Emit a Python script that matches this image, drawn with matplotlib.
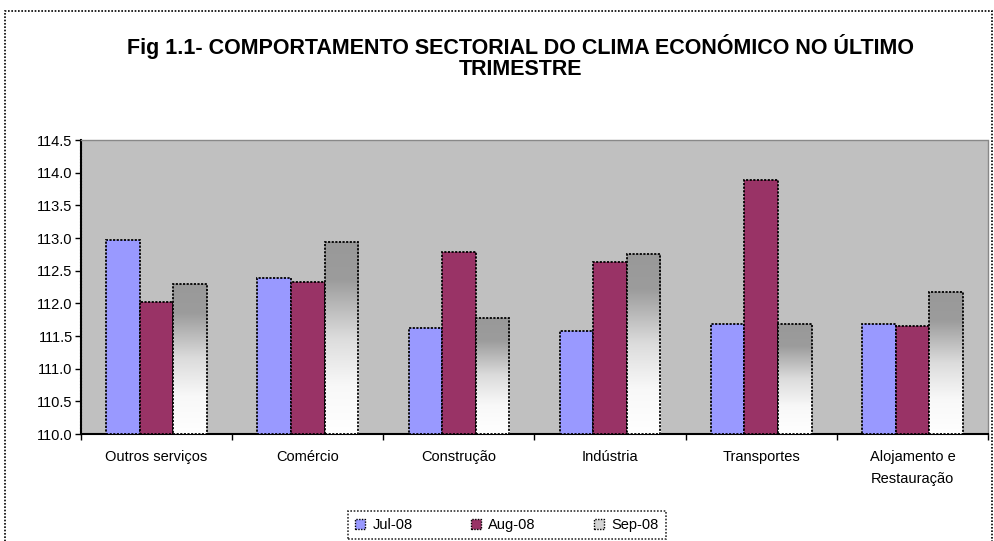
import numpy as np
import matplotlib
matplotlib.use("Agg")
import matplotlib.pyplot as plt
from matplotlib.patches import Rectangle, Patch
from matplotlib.colors import LinearSegmentedColormap

plt.rcParams['font.family'] = ['Liberation Sans', 'DejaVu Sans']

title = "Fig 1.1- COMPORTAMENTO SECTORIAL DO CLIMA ECONÓMICO NO ÚLTIMO\nTRIMESTRE"
categories = ["Outros serviços", "Comércio", "Construção", "Indústria", "Transportes",
              "Alojamento e\nRestauração"]
series_names = ["Jul-08", "Aug-08", "Sep-08"]
jul = [112.97, 112.39, 111.63, 111.57, 111.68, 111.68]
aug = [112.02, 112.33, 112.79, 112.64, 113.89, 111.66]
sep = [112.30, 112.94, 111.78, 112.76, 111.68, 112.17]
yticks = [110.0, 110.5, 111.0, 111.5, 112.0, 112.5, 113.0, 113.5, 114.0, 114.5]

W, H = 995, 541
fig = plt.figure(figsize=(W / 100, H / 100), dpi=100)
fig.patch.set_facecolor("white")

# outer chart border
fig.patches.append(Rectangle((5 / W, -0.02), 987 / W, (530 / H) + 0.02, transform=fig.transFigure,
                             fill=False, edgecolor="black", linewidth=1.2, linestyle=(0, (1, 1))))

ax = fig.add_axes([81 / W, (541 - 434) / H, (988 - 81) / W, (434 - 140) / H])
ax.set_facecolor("#c0c0c0")

bw = 0.222
x = np.arange(len(categories)) + 0.5
edge_ls = (0, (1.2, 0.8))
ax.bar(x - bw, [v - 110 for v in jul], bw, bottom=110, color="#9999ff",
       edgecolor="black", linewidth=1.3, linestyle=edge_ls, zorder=3)
ax.bar(x, [v - 110 for v in aug], bw, bottom=110, color="#993366",
       edgecolor="black", linewidth=1.3, linestyle=edge_ls, zorder=3)
bars_sep = ax.bar(x + bw, [v - 110 for v in sep], bw, bottom=110, color="none",
                  edgecolor="black", linewidth=1.3, linestyle=edge_ls, zorder=4)

cmap = LinearSegmentedColormap.from_list(
    "g", [(0.0, "#999999"), (0.2, "#9c9c9c"), (0.5, "#dcdcdc"), (0.75, "#f8f8f8"), (1.0, "#ffffff")])
grad = np.linspace(0, 1, 256).reshape(-1, 1)
for b in bars_sep:
    x0 = b.get_x()
    x1 = x0 + b.get_width()
    y1 = b.get_y() + b.get_height()
    im = ax.imshow(grad, cmap=cmap, aspect="auto", extent=[x0, x1, 110, y1], origin="upper",
                   zorder=3, interpolation="bilinear")
    im.set_clip_path(b)
ax.set_xlim(0, len(categories))
ax.set_ylim(110, 114.5)

ax.set_yticks(yticks)
ax.set_yticklabels([f"{v:.1f}" for v in yticks], fontsize=10.5)
ax.set_xticks(np.arange(len(categories) + 1))
ax.set_xticklabels([])
ax.tick_params(axis="x", direction="out", length=4, width=1)
ax.tick_params(axis="y", direction="out", length=4, width=1, pad=2)
for i, c in enumerate(categories):
    ax.text(x[i], 109.76, c, ha="center", va="top", fontsize=10.5, linespacing=1.75)

ax.spines["left"].set_linewidth(1.5)
ax.spines["bottom"].set_linewidth(1.5)
ax.spines["left"].set_linestyle((0, (1, 0.5)))
for s in ["top", "right"]:
    ax.spines[s].set_color("#888888")
    ax.spines[s].set_linestyle((0, (1, 1)))
    ax.spines[s].set_linewidth(1)

fig.text(521 / W, 1 - 57 / H, title, ha="center", va="center", fontsize=15.5, fontweight="bold",
         linespacing=1.05)

handles = [Patch(facecolor="#9999ff", edgecolor="black", linestyle=(0, (1, 1))),
           Patch(facecolor="#993366", edgecolor="black", linestyle=(0, (1, 1))),
           Patch(facecolor="#d4d4d4", edgecolor="black", linestyle=(0, (1, 1)))]
leg = fig.legend(handles, series_names, loc="center", bbox_to_anchor=(507 / W, 1 - 525 / H), ncol=3,
                 fontsize=10.5, frameon=True, fancybox=False, handlelength=0.7, handleheight=0.7,
                 columnspacing=4.0, handletextpad=0.5, borderpad=0.45, borderaxespad=0)
leg.get_frame().set_edgecolor("black")
leg.get_frame().set_linestyle((0, (1, 1)))
leg.get_frame().set_linewidth(1.2)

fig.savefig("out.png", dpi=100)
